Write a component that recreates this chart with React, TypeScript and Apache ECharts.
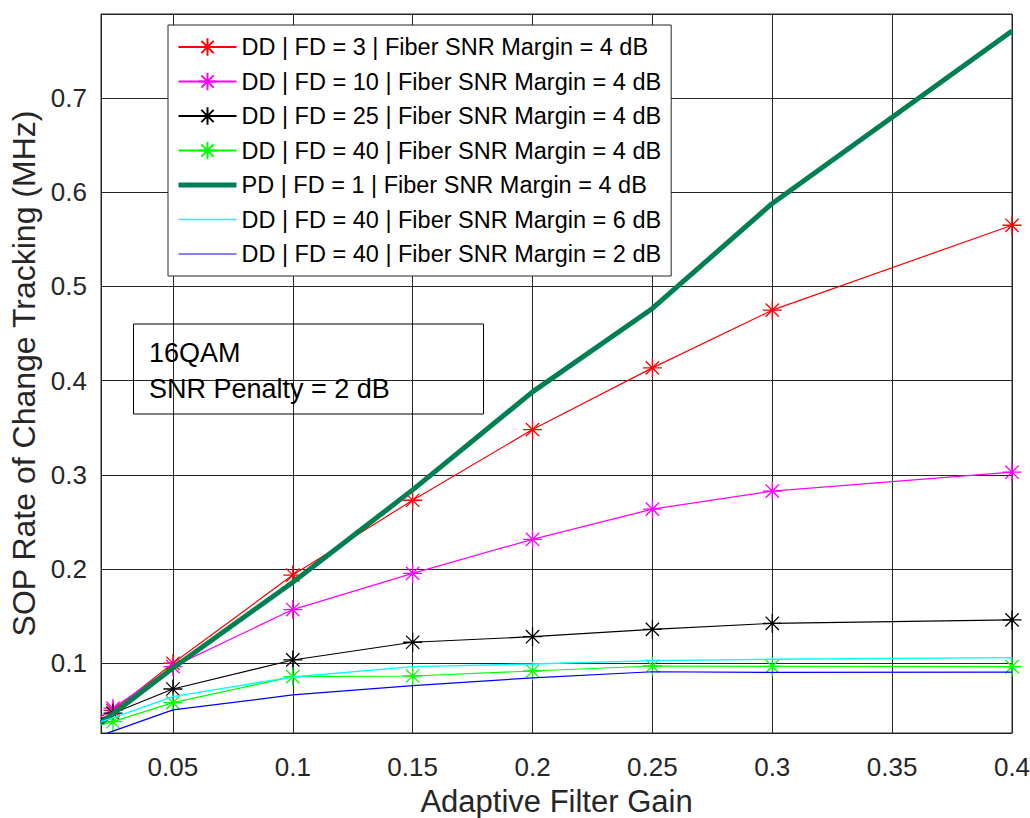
import React, { useEffect, useRef } from "react";
import * as echarts from "echarts";

const gains = [0.02, 0.025, 0.05, 0.1, 0.15, 0.2, 0.25, 0.3, 0.4];
const ddFd3 = [0.044, 0.05, 0.1, 0.1936, 0.273, 0.348, 0.4135, 0.4747, 0.5648];
const ddFd10 = [0.043, 0.0523, 0.0964, 0.157, 0.1954, 0.2315, 0.2636, 0.2827, 0.3029];
const ddFd25 = [0.041, 0.047, 0.0727, 0.1035, 0.1223, 0.1282, 0.136, 0.1424, 0.146];
const ddFd40 = [0.0346, 0.038, 0.0582, 0.0858, 0.0865, 0.0918, 0.0971, 0.0967, 0.0964];
const pdFd1 = [0.0367, 0.0464, 0.095, 0.186, 0.284, 0.388, 0.4765, 0.588, 0.771];
const ddFd40m6 = [0.038, 0.042, 0.0646, 0.0855, 0.0964, 0.0993, 0.1028, 0.1042, 0.106];
const ddFd40m2 = [0.0235, 0.028, 0.0505, 0.0664, 0.0763, 0.0845, 0.091, 0.0903, 0.0905];

const seriesNames = [
  "DD | FD = 3 | Fiber SNR Margin = 4 dB",
  "DD | FD = 10 | Fiber SNR Margin = 4 dB",
  "DD | FD = 25 | Fiber SNR Margin = 4 dB",
  "DD | FD = 40 | Fiber SNR Margin = 4 dB",
  "PD | FD = 1 | Fiber SNR Margin = 4 dB",
  "DD | FD = 40 | Fiber SNR Margin = 6 dB",
  "DD | FD = 40 | Fiber SNR Margin = 2 dB",
];
const seriesValues = [ddFd3, ddFd10, ddFd25, ddFd40, pdFd1, ddFd40m6, ddFd40m2];
const seriesColors = ["#ff0000", "#ff00ff", "#000000", "#00ff00", "#008050", "#00ffff", "#0000ff"];
const seriesMarked = [true, true, true, true, false, false, false];
const seriesWidths = [1.2, 1.2, 1.2, 1.2, 5, 1.4, 1.2];

const annotationLines = ["16QAM", "SNR Penalty = 2 dB"];
const xTitle = "Adaptive Filter Gain";
const yTitle = "SOP Rate of Change Tracking (MHz)";

const FONT = '"Liberation Sans", Arial, Helvetica, sans-serif';
const ASTERISK = "path://M10,0L10,20M0,10L20,10M3,3L17,17M3,17L17,3";
const AXIS = "#262626";

export default function App() {
  const ref = useRef<HTMLDivElement>(null);
  useEffect(() => {
    if (!ref.current) return;
    const chart = echarts.init(ref.current, null, { renderer: "svg" });
    const series = seriesNames.map((name, s) => ({
      name,
      type: "line",
      clip: true,
      z: 2 + s,
      data: seriesValues[s].map((v, i) =>
        seriesMarked[s] && i > 0 ? [gains[i], v] : { value: [gains[i], v], symbol: "none" }
      ),
      symbol: seriesMarked[s] ? ASTERISK : "none",
      symbolSize: 19,
      showSymbol: true,
      color: seriesColors[s],
      itemStyle: { color: seriesColors[s], borderColor: seriesColors[s], borderWidth: 1.3 },
      lineStyle: { color: seriesColors[s], width: seriesWidths[s] },
      emphasis: { disabled: true },
    }));
    const legendData = seriesNames.map((name, s) =>
      seriesMarked[s]
        ? { name }
        : {
            name,
            itemStyle: { opacity: 0, color: "transparent", borderColor: "transparent" },
            lineStyle: { color: seriesColors[s], width: seriesWidths[s] },
          }
    );
    chart.setOption({
      animation: false,
      backgroundColor: "#ffffff",
      textStyle: { fontFamily: FONT },
      grid: {
        left: 101,
        right: 18,
        top: 14,
        bottom: 85,
        show: true,
        borderColor: AXIS,
        borderWidth: 1,
        backgroundColor: "transparent",
        containLabel: false,
        outerBoundsMode: "none",
      },
      xAxis: {
        type: "value",
        min: 0.02,
        max: 0.4,
        splitNumber: 8,
        name: xTitle,
        nameLocation: "middle",
        nameGap: 53,
        nameTextStyle: { fontSize: 31, color: AXIS, fontFamily: FONT, lineHeight: 31 },
        axisLine: { show: true, lineStyle: { color: AXIS, width: 1 } },
        axisTick: { show: true, inside: true, length: 9, lineStyle: { color: AXIS } },
        axisLabel: {
          fontSize: 26,
          color: AXIS,
          fontFamily: FONT,
          margin: 21,
          showMinLabel: false,
          showMaxLabel: true,
        },
        splitLine: { show: true, lineStyle: { color: AXIS, width: 1 } },
      },
      yAxis: {
        type: "value",
        min: 0.026,
        max: 0.789,
        splitNumber: 7,
        name: yTitle,
        nameLocation: "middle",
        nameGap: 55,
        nameTextStyle: { fontSize: 32, color: AXIS, fontFamily: FONT },
        axisLine: { show: true, lineStyle: { color: AXIS, width: 1 } },
        axisTick: { show: true, inside: true, length: 9, lineStyle: { color: AXIS } },
        axisLabel: {
          fontSize: 26,
          color: AXIS,
          fontFamily: FONT,
          margin: 14,
          showMinLabel: false,
          showMaxLabel: false,
        },
        splitLine: { show: true, lineStyle: { color: AXIS, width: 1 } },
      },
      legend: {
        orient: "vertical",
        left: 168,
        top: 25,
        padding: [10, 10, 10, 8],
        itemWidth: 58,
        itemHeight: 22,
        itemGap: 10.5,
        backgroundColor: "#ffffff",
        borderColor: AXIS,
        borderWidth: 1,
        borderRadius: 0,
        selectedMode: false,
        textStyle: { fontSize: 23.5, color: "#000000", fontFamily: FONT, lineHeight: 24 },
        data: legendData,
        z: 20,
      },
      graphic: [
        {
          type: "rect",
          z: 15,
          shape: { x: 133.5, y: 324, width: 350, height: 90 },
          style: { fill: "none", stroke: "#000000", lineWidth: 1 },
        },
        {
          type: "text",
          z: 15,
          x: 149,
          y: 353,
          style: {
            text: annotationLines[0],
            fontSize: 27,
            fontFamily: FONT,
            fill: "#000000",
            verticalAlign: "middle",
          },
        },
        {
          type: "text",
          z: 15,
          x: 149,
          y: 389,
          style: {
            text: annotationLines[1],
            fontSize: 27,
            fontFamily: FONT,
            fill: "#000000",
            verticalAlign: "middle",
          },
        },
      ],
      series,
    });
    return () => chart.dispose();
  }, []);
  return (
    <div
      ref={ref}
      style={{ position: "fixed", left: 0, top: 0, width: 1030, height: 818 }}
    />
  );
}
